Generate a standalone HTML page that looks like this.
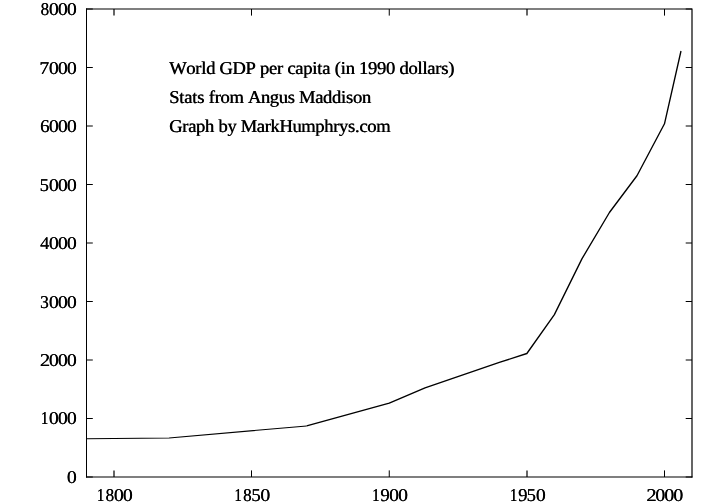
<!DOCTYPE html>
<html><head><meta charset="utf-8">
<title>World GDP per capita</title>
<style>
html,body{margin:0;padding:0;background:#fff;}
body{width:720px;height:504px;overflow:hidden;}
svg{display:block;will-change:transform;}
text{font-family:"Liberation Serif",serif;font-size:18px;fill:#000;text-rendering:geometricPrecision;font-kerning:none;}
</style></head><body>
<svg width="720" height="504" viewBox="0 0 720 504">
<rect width="720" height="504" fill="#fff"/>
<g fill="none" stroke="#000" stroke-width="1" stroke-linecap="butt">
<g>
<path d="M86.5 8.4V477.6"/>
<path d="M86.5 418.5h6.3M692 418.5h-6.3M86.5 301.5h6.3M692 301.5h-6.3M86.5 184.5h6.3M692 184.5h-6.3M86.5 67.5h6.3M692 67.5h-6.3"/>
<path d="M251.5 477v-6.6M251.5 9v6.6M664.5 477v-6.6M664.5 9v6.6M389.25 477v-6.6M389.25 9v6.6"/>
</g>
<g stroke-width="1.2">
<path d="M86 9H692.6M692 8.4V477.6"/>
<path d="M86 477H692.6"/>
<path d="M86.5 477h6.3M692 477h-6.3M86.5 360h6.3M692 360h-6.3M86.5 243h6.3M692 243h-6.3M86.5 126h6.3M692 126h-6.3M86.5 9h6.3M692 9h-6.3"/>
<path d="M114 477v-6.6M114 9v6.6M527 477v-6.6M527 9v6.6"/>
</g>
<polyline stroke-width="1.1" stroke-linejoin="round" points="86.5,438.7 169.07,437.98 306.68,425.93"/>
<polyline stroke-width="1.35" stroke-linejoin="round" points="306.68,425.93 389.25,403.17 425.03,387.79 499.34,362.46 526.86,353.51 554.39,314.66 581.91,258.85 609.43,212.52 636.95,175.73 664.48,123.78 680.99,51"/>
</g>
<defs><g id="t">
<text transform="translate(71.700,483) scale(1.100,1)" text-anchor="middle">0</text>
<text transform="translate(44.493,424) scale(0.830,1)" text-anchor="middle">1</text><text transform="translate(53.700,424) scale(1.100,1)" text-anchor="middle">0</text><text transform="translate(62.700,424) scale(1.100,1)" text-anchor="middle">0</text><text transform="translate(71.700,424) scale(1.100,1)" text-anchor="middle">0</text>
<text transform="translate(44.844,366) scale(1.145,1)" text-anchor="middle">2</text><text transform="translate(53.700,366) scale(1.100,1)" text-anchor="middle">0</text><text transform="translate(62.700,366) scale(1.100,1)" text-anchor="middle">0</text><text transform="translate(71.700,366) scale(1.100,1)" text-anchor="middle">0</text>
<text transform="translate(44.385,308) scale(0.969,1)" text-anchor="middle">3</text><text transform="translate(53.700,308) scale(1.100,1)" text-anchor="middle">0</text><text transform="translate(62.700,308) scale(1.100,1)" text-anchor="middle">0</text><text transform="translate(71.700,308) scale(1.100,1)" text-anchor="middle">0</text>
<text transform="translate(44.520,249) scale(1.023,1)" text-anchor="middle">4</text><text transform="translate(53.700,249) scale(1.100,1)" text-anchor="middle">0</text><text transform="translate(62.700,249) scale(1.100,1)" text-anchor="middle">0</text><text transform="translate(71.700,249) scale(1.100,1)" text-anchor="middle">0</text>
<text transform="translate(44.259,191) scale(1.040,1)" text-anchor="middle">5</text><text transform="translate(53.700,191) scale(1.100,1)" text-anchor="middle">0</text><text transform="translate(62.700,191) scale(1.100,1)" text-anchor="middle">0</text><text transform="translate(71.700,191) scale(1.100,1)" text-anchor="middle">0</text>
<text transform="translate(44.601,132) scale(1.049,1)" text-anchor="middle">6</text><text transform="translate(53.700,132) scale(1.100,1)" text-anchor="middle">0</text><text transform="translate(62.700,132) scale(1.100,1)" text-anchor="middle">0</text><text transform="translate(71.700,132) scale(1.100,1)" text-anchor="middle">0</text>
<text transform="translate(44.088,74) scale(1.093,1)" text-anchor="middle">7</text><text transform="translate(53.700,74) scale(1.100,1)" text-anchor="middle">0</text><text transform="translate(62.700,74) scale(1.100,1)" text-anchor="middle">0</text><text transform="translate(71.700,74) scale(1.100,1)" text-anchor="middle">0</text>
<text transform="translate(44.709,15) scale(0.947,1)" text-anchor="middle">8</text><text transform="translate(53.700,15) scale(1.100,1)" text-anchor="middle">0</text><text transform="translate(62.700,15) scale(1.100,1)" text-anchor="middle">0</text><text transform="translate(71.700,15) scale(1.100,1)" text-anchor="middle">0</text>
<text transform="translate(100.493,501) scale(0.830,1)" text-anchor="middle">1</text><text transform="translate(109.709,501) scale(0.947,1)" text-anchor="middle">8</text><text transform="translate(118.700,501) scale(1.100,1)" text-anchor="middle">0</text><text transform="translate(127.700,501) scale(1.100,1)" text-anchor="middle">0</text>
<text transform="translate(238.093,501) scale(0.830,1)" text-anchor="middle">1</text><text transform="translate(247.309,501) scale(0.947,1)" text-anchor="middle">8</text><text transform="translate(255.859,501) scale(1.040,1)" text-anchor="middle">5</text><text transform="translate(265.300,501) scale(1.100,1)" text-anchor="middle">0</text>
<text transform="translate(375.693,501) scale(0.830,1)" text-anchor="middle">1</text><text transform="translate(384.882,501) scale(1.037,1)" text-anchor="middle">9</text><text transform="translate(393.900,501) scale(1.100,1)" text-anchor="middle">0</text><text transform="translate(402.900,501) scale(1.100,1)" text-anchor="middle">0</text>
<text transform="translate(513.393,501) scale(0.830,1)" text-anchor="middle">1</text><text transform="translate(522.582,501) scale(1.037,1)" text-anchor="middle">9</text><text transform="translate(531.159,501) scale(1.040,1)" text-anchor="middle">5</text><text transform="translate(540.600,501) scale(1.100,1)" text-anchor="middle">0</text>
<text transform="translate(651.344,501) scale(1.145,1)" text-anchor="middle">2</text><text transform="translate(660.200,501) scale(1.100,1)" text-anchor="middle">0</text><text transform="translate(669.200,501) scale(1.100,1)" text-anchor="middle">0</text><text transform="translate(678.200,501) scale(1.100,1)" text-anchor="middle">0</text>
</g><g id="u">
<text transform="translate(169.500,74) scale(1.03,1)" x="-0.247 16.299 25.049 30.852 35.646 44.417 48.647 61.207 73.826 83.595 87.883 96.604 104.356 110.182 114.485 122.208 129.932 138.697 143.533 148.327 156.101 160.432 166.251 171.030 179.801 184.089 192.795 201.501 210.207 218.979 223.267 231.973 240.737 245.574 250.367 258.120 263.909 270.695" y="0" xml:space="preserve">World GDP per capita (in 1990 dollars)</text>
<text transform="translate(169.500,103) scale(1.03,1)" x="-0.146 9.588 14.375 22.147 26.948 33.747 38.073 43.869 49.607 58.229 71.892 76.116 88.733 97.428 106.123 114.846 121.660 125.840 141.414 149.113 157.808 166.561 171.362 178.111 186.805" y="0" xml:space="preserve">Stats from Angus Maddison</text>
<text transform="translate(169.500,132) scale(1.03,1)" x="-0.189 12.424 18.177 25.856 34.528 43.266 47.537 56.209 64.947 69.115 84.665 92.387 98.125 106.739 119.324 127.924 141.487 150.159 158.875 164.598 173.299 180.096 184.381 192.060 200.659" y="0" xml:space="preserve">Graph by MarkHumphrys.com</text>
</g></defs>
<use href="#t"/><use href="#t" x="0.25"/>
<use href="#u" x="-0.25"/><use href="#u" x="0.25"/>
</svg>
</body></html>
